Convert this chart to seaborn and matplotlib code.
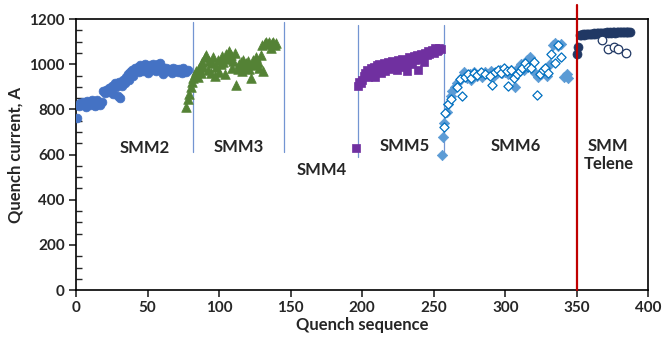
import numpy as np
import pandas as pd
import matplotlib
matplotlib.use("Agg")
import matplotlib.pyplot as plt
import seaborn as sns
from matplotlib.ticker import MultipleLocator

# ---------------- data ----------------
smm2_x = list(range(1, 79))
smm2_y = [760, 815, 830, 820, 835, 825, 810, 838, 830, 820, 840, 828, 815, 835, 842, 825, 818, 832,
          880, 872, 888, 876, 893, 885, 905, 870, 915, 900, 860, 920, 850, 905, 930, 915, 945, 955,
          930, 965, 975, 950, 985, 970, 990, 965, 995, 985, 972, 1000, 990, 960, 985, 995, 975, 1000,
          988, 970, 1002, 995, 1005, 990, 955, 975, 985, 968, 980, 975, 960, 985, 970, 978, 965, 980,
          970, 960, 985, 972, 965, 975]

smm3_x = list(range(77, 141))
smm3_y = [810, 845, 870, 900, 920, 940, 955, 970, 945, 985, 960, 1010, 990, 1030, 1040, 975, 1015,
          960, 1005, 1030, 950, 990, 1020, 965, 1000, 1035, 1010, 958, 1045, 1025, 1060, 1040, 985,
          1015, 1050, 910, 980, 1000, 1010, 970, 1020, 990, 1005, 1015, 980, 938, 1000, 1020, 995,
          1030, 1010, 985, 1040, 1085, 972, 1095, 1100, 1090, 1100, 1070, 1095, 1100, 1085, 1095]

smm5_x = [196] + list(range(197, 256))
smm5_y = [630, 905, 920, 915, 930, 950, 960, 975, 945, 970, 985, 960, 990, 945, 995, 975, 1000, 960,
          985, 1005, 970, 995, 1010, 980, 1000, 1015, 990, 1005, 975, 1020, 995, 1010, 1025, 990,
          1015, 970, 1005, 1030, 1015, 1000, 1035, 1020, 1040, 975, 1025, 1045, 1030, 1010, 1050,
          1040, 1060, 1045, 1055, 1065, 1050, 1070, 1060, 1065, 1072, 1068]

smm6_x = [256, 256.5, 257, 259, 260, 262, 263, 265, 266, 268, 270, 271, 273, 275, 276, 278, 280, 282,
          284, 286, 288, 290, 292, 294, 296, 298, 300, 302, 304, 306, 307, 309, 311, 313, 315, 317,
          319, 321, 323, 325, 327, 329, 331, 333, 335, 337, 339, 341, 343, 344]
smm6_y = [600, 680, 740, 790, 825, 860, 880, 900, 915, 930, 945, 965, 940, 955, 930, 965, 950, 960,
          945, 965, 955, 970, 950, 960, 975, 960, 965, 955, 975, 960, 898, 985, 1000, 975, 1020, 1030,
          1010, 960, 945, 955, 965, 950, 1000, 1085, 1095, 1080, 1090, 945, 955, 940]

smm6o_x = [257, 258, 260, 262, 266, 268, 270, 272, 274, 276, 278, 280, 283, 286, 289, 291, 293, 295,
           297, 299, 301, 302, 304, 306, 308, 310, 312, 314, 316, 318, 320, 322, 324, 326, 328, 330,
           332, 335, 337, 339]
smm6o_y = [720, 783, 823, 845, 898, 935, 861, 945, 955, 940, 960, 952, 965, 958, 948, 908, 965, 975,
           960, 985, 970, 902, 975, 938, 955, 970, 985, 1005, 990, 982, 1010, 864, 955, 975, 985, 960,
           1047, 1005, 1084, 1030]

tel_x = [350, 350.5] + list(range(352, 388))
tel_y = [1045, 1078, 1128, 1130, 1132, 1131, 1133, 1134, 1132, 1135, 1136, 1134, 1137, 1136, 1138,
         1137, 1139, 1138, 1140, 1139, 1140, 1141, 1139, 1141, 1140, 1142, 1141, 1140, 1142, 1141,
         1142, 1141, 1143, 1142, 1141, 1142, 1143, 1142]

telo_x = [367.5, 372, 376, 379, 384]
telo_y = [1106, 1069, 1076, 1069, 1050]

divider_x = [81.8, 145, 197.4, 256.9]
divider_top = [1185, 1185, 1175, 1175]
divider_bot = [612, 612, 590, 590]

labels = ["SMM2", "SMM3", "SMM4", "SMM5", "SMM6", "SMM\nTelene"]
label_x = [48, 113.5, 172, 229.5, 307, 372]
label_y = [628, 635, 531, 640, 640, 598]

# ---------------- style ----------------
sns.set_style("ticks")
plt.rcParams['font.family'] = ['Lato', 'DejaVu Sans']
plt.rcParams['font.weight'] = 'bold'

fig = plt.figure(figsize=(6.64, 3.47), dpi=100)
ax = fig.add_axes([0.1145, 0.164, 0.862, 0.781])

def df(x, y):
    return pd.DataFrame({"x": x, "y": y})

sns.scatterplot(data=df(smm2_x, smm2_y), x="x", y="y", ax=ax, marker="o", s=40,
                color="#4472C4", edgecolor="#4472C4", linewidth=0.5, zorder=3)
sns.scatterplot(data=df(smm3_x, smm3_y), x="x", y="y", ax=ax, marker="^", s=48,
                color="#548235", edgecolor="#548235", linewidth=0.5, zorder=3)
sns.scatterplot(data=df(smm5_x, smm5_y), x="x", y="y", ax=ax, marker="s", s=36,
                color="#7030A0", edgecolor="#7030A0", linewidth=0.5, zorder=3)
sns.scatterplot(data=df(smm6_x, smm6_y), x="x", y="y", ax=ax, marker="D", s=28,
                color="#5B9BD5", edgecolor="#5B9BD5", linewidth=0.5, zorder=3)
sns.scatterplot(data=df(smm6o_x, smm6o_y), x="x", y="y", ax=ax, marker="D", s=22,
                facecolor="white", edgecolor="#0070C0", linewidth=0.9, zorder=4)
sns.scatterplot(data=df(tel_x, tel_y), x="x", y="y", ax=ax, marker="o", s=42,
                color="#203864", edgecolor="#203864", linewidth=0.5, zorder=3)
sns.scatterplot(data=df(telo_x, telo_y), x="x", y="y", ax=ax, marker="o", s=38,
                facecolor="white", edgecolor="#203864", linewidth=0.9, zorder=4)

for xv, t, b in zip(divider_x, divider_top, divider_bot):
    ax.plot([xv, xv], [b, t], color="#4472C4", lw=0.9, alpha=0.75, zorder=2)

ax.plot([350, 350], [0, 1262], color="#C00000", lw=1.6, zorder=5, clip_on=False)

for t, xv, yv in zip(labels, label_x, label_y):
    ax.text(xv, yv, t, ha="center", va="center", fontsize=12, fontweight="bold",
            linespacing=1.2, zorder=6)

ax.set_xlim(0, 400)
ax.set_ylim(0, 1200)
ax.xaxis.set_major_locator(MultipleLocator(50))
ax.yaxis.set_major_locator(MultipleLocator(200))
ax.yaxis.set_minor_locator(MultipleLocator(50))
ax.tick_params(axis="both", which="major", direction="out", length=5, width=1.2,
               labelsize=11, pad=3)
ax.tick_params(axis="y", which="minor", direction="in", length=4, width=1.0)
for lab in ax.get_xticklabels() + ax.get_yticklabels():
    lab.set_fontweight("bold")

for sp in ax.spines.values():
    sp.set_visible(True)
    sp.set_linewidth(1.2)
    sp.set_color("black")

ax.set_xlabel("Quench sequence", fontsize=12, fontweight="bold", labelpad=1)
ax.set_ylabel("Quench current, A", fontsize=12, fontweight="bold", labelpad=4)

fig.savefig("out.png", dpi=100)
